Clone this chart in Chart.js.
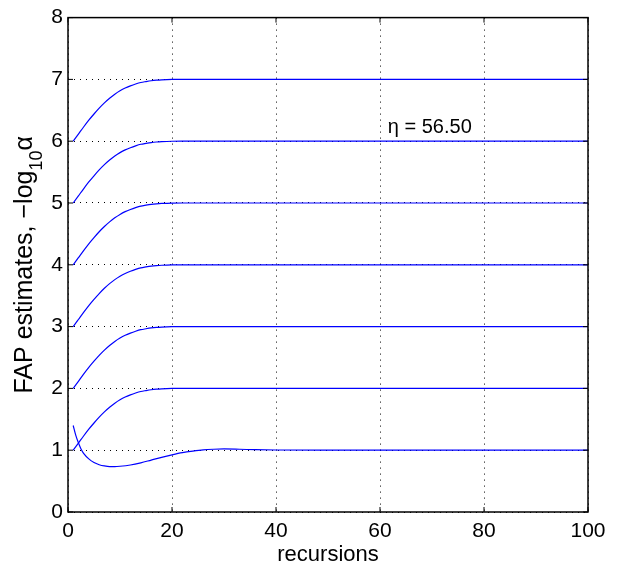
<!DOCTYPE html>
<html>
<head>
<meta charset="utf-8">
<script src="https://cdn.jsdelivr.net/npm/chart.js@4"></script>
<style>
  html, body { margin: 0; padding: 0; background: #fff; }
  #box { width: 620px; height: 573px; }
</style>
</head>
<body>
<div id="box"><canvas id="grafico"></canvas></div>
<script>
// recursion index for the rising curves
const xsSubida = [1, 2, 3, 4, 5, 6, 7, 8, 9, 10, 11, 12, 13, 14, 15, 16, 17, 18, 20, 22, 100]
const curva1a2 = [1, 1.115, 1.23, 1.34, 1.44, 1.535, 1.62, 1.695, 1.76, 1.815, 1.86, 1.895, 1.925, 1.95, 1.965, 1.978, 1.987, 1.993, 1.999, 2, 2]
const curva2a3 = [2, 2.115, 2.23, 2.34, 2.44, 2.535, 2.62, 2.695, 2.76, 2.815, 2.86, 2.895, 2.925, 2.95, 2.965, 2.978, 2.987, 2.993, 2.999, 3, 3]
const curva3a4 = [3, 3.115, 3.23, 3.34, 3.44, 3.535, 3.62, 3.695, 3.76, 3.815, 3.86, 3.895, 3.925, 3.95, 3.965, 3.978, 3.987, 3.993, 3.999, 4, 4]
const curva4a5 = [4, 4.115, 4.23, 4.34, 4.44, 4.535, 4.62, 4.695, 4.76, 4.815, 4.86, 4.895, 4.925, 4.95, 4.965, 4.978, 4.987, 4.993, 4.999, 5, 5]
const curva5a6 = [5, 5.115, 5.23, 5.34, 5.44, 5.535, 5.62, 5.695, 5.76, 5.815, 5.86, 5.895, 5.925, 5.95, 5.965, 5.978, 5.987, 5.993, 5.999, 6, 6]
const curva6a7 = [6, 6.115, 6.23, 6.34, 6.44, 6.535, 6.62, 6.695, 6.76, 6.815, 6.86, 6.895, 6.925, 6.95, 6.965, 6.978, 6.987, 6.993, 6.999, 7, 7]

// the curve that starts at 1.4, dips and settles at 1
const xsQueda = [1, 1.5, 2, 2.5, 3, 4, 5, 6, 7, 8, 9, 10, 12, 14, 16, 18, 20, 22, 24, 26, 28, 30, 33, 36, 40, 50, 100]
const curvaQueda = [1.40, 1.24, 1.12, 1.02, 0.95, 0.86, 0.80, 0.765, 0.745, 0.735, 0.735, 0.74, 0.76, 0.795, 0.84, 0.885, 0.925, 0.96, 0.985, 1.005, 1.015, 1.02, 1.015, 1.008, 1.003, 1.0, 1.0]

const ticksX = [0, 20, 40, 60, 80, 100]
const ticksY = [0, 1, 2, 3, 4, 5, 6, 7, 8]
const rotuloEta = 'η = 56.50'

const fonte = "'Liberation Sans', Arial, Helvetica, sans-serif"
const azul = 'rgb(0, 0, 255)'

function pontos(xs, ys) {
    return xs.map((x, i) => ({ x: x, y: ys[i] }))
}

function serie(xs, ys) {
    return {
        data: pontos(xs, ys),
        borderColor: azul,
        borderWidth: 1.2,
        pointRadius: 0,
        fill: false,
        cubicInterpolationMode: 'monotone'
    }
}

// Box, inward ticks, eta label and y title with subscript
const molduraPlugin = {
    id: 'moldura',
    afterDatasetsDraw(chart) {
        const c = chart.ctx
        const a = chart.chartArea
        const sx = chart.scales.x
        const sy = chart.scales.y
        c.save()
        c.strokeStyle = '#000'
        c.lineWidth = 1.5
        c.strokeRect(a.left, a.top, a.right - a.left, a.bottom - a.top)
        c.lineWidth = 1
        c.beginPath()
        ticksX.forEach(v => {
            const px = sx.getPixelForValue(v)
            c.moveTo(px, a.bottom); c.lineTo(px, a.bottom - 5)
            c.moveTo(px, a.top); c.lineTo(px, a.top + 5)
        })
        ticksY.forEach(v => {
            const py = sy.getPixelForValue(v)
            c.moveTo(a.left, py); c.lineTo(a.left + 5, py)
            c.moveTo(a.right, py); c.lineTo(a.right - 5, py)
        })
        c.stroke()

        c.fillStyle = '#000'
        c.font = '20px ' + fonte
        c.textBaseline = 'middle'
        c.textAlign = 'left'
        c.fillText(rotuloEta, sx.getPixelForValue(61.5), sy.getPixelForValue(6.22))

        // y title
        c.translate(32, (a.top + a.bottom) / 2)
        c.rotate(-Math.PI / 2)
        c.textBaseline = 'alphabetic'
        const principal = 'FAP estimates, −log'
        const sub = '10'
        const fim = 'α'
        c.font = '25px ' + fonte
        const w1 = c.measureText(principal).width
        const w3 = c.measureText(fim).width
        c.font = '18px ' + fonte
        const w2 = c.measureText(sub).width
        const total = w1 + w2 + w3
        let x0 = -total / 2
        c.font = '25px ' + fonte
        c.fillText(principal, x0, 0)
        c.font = '18px ' + fonte
        c.fillText(sub, x0 + w1, 10)
        c.font = '25px ' + fonte
        c.fillText(fim, x0 + w1 + w2, 0)
        c.restore()
    }
}

const ctx = document.getElementById('grafico')

new Chart(ctx, {
    type: 'line',
    data: {
        datasets: [
            serie(xsQueda, curvaQueda),
            serie(xsSubida, curva1a2),
            serie(xsSubida, curva2a3),
            serie(xsSubida, curva3a4),
            serie(xsSubida, curva4a5),
            serie(xsSubida, curva5a6),
            serie(xsSubida, curva6a7)
        ]
    },
    options: {
        responsive: true,
        maintainAspectRatio: false,
        animation: false,
        layout: { padding: { top: 14, right: 32, left: 0, bottom: 0 } },
        plugins: {
            legend: { display: false },
            tooltip: { enabled: false }
        },
        scales: {
            x: {
                type: 'linear',
                min: 0,
                max: 100,
                afterBuildTicks: (s) => { s.ticks = ticksX.map(v => ({ value: v })) },
                afterFit: (s) => { s.height = 61 },
                grid: {
                    color: '#000',
                    lineWidth: 1,
                    drawTicks: false
                },
                border: { display: false, dash: [1, 5] },
                ticks: {
                    color: '#000',
                    padding: 7,
                    maxRotation: 0,
                    font: { family: fonte, size: 21 }
                },
                title: {
                    display: true,
                    text: 'recursions',
                    color: '#000',
                    padding: { top: 0, bottom: 5 },
                    font: { family: fonte, size: 22 }
                }
            },
            y: {
                type: 'linear',
                min: 0,
                max: 8,
                afterBuildTicks: (s) => { s.ticks = ticksY.map(v => ({ value: v })) },
                afterFit: (s) => { s.width = 68 },
                grid: {
                    color: '#000',
                    lineWidth: 1,
                    drawTicks: false
                },
                border: { display: false, dash: [1, 5] },
                ticks: {
                    color: '#000',
                    padding: 5,
                    font: { family: fonte, size: 21 }
                }
            }
        }
    },
    plugins: [molduraPlugin]
})
</script>
</body>
</html>
